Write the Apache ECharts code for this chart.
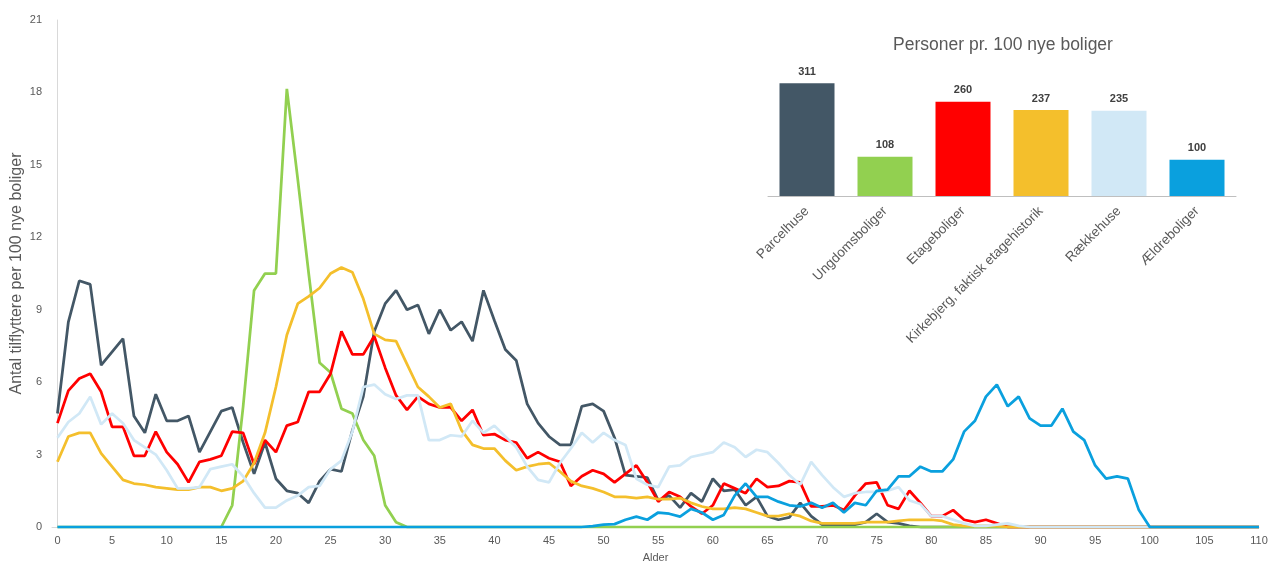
<!DOCTYPE html>
<html>
<head>
<meta charset="utf-8">
<title>Tilflyttere per 100 nye boliger</title>
<script src="https://cdn.jsdelivr.net/npm/echarts@6/dist/echarts.min.js"></script>
<style>
  html, body { margin: 0; padding: 0; background: #fff; }
  #chart { width: 1275px; height: 563px; }
</style>
</head>
<body>
<div id="chart"></div>
<script>
// alder 0..110
const ages = [];
for (let a = 0; a <= 110; a++) ages.push(a);
const xTicks = [0, 5, 10, 15, 20, 25, 30, 35, 40, 45, 50, 55, 60, 65, 70, 75, 80, 85, 90, 95, 100, 105, 110];

const parcelhuse = [
  4.7, 8.5, 10.2, 10.05, 6.7, 7.25, 7.8, 4.6, 3.9, 5.5,
  4.4, 4.4, 4.6, 3.1, 3.95, 4.8, 4.95, 3.5, 2.2, 3.5,
  2.0, 1.5, 1.4, 1.0, 1.9, 2.4, 2.3, 4.0, 5.4, 8.1,
  9.25, 9.8, 9.0, 9.2, 8.0, 9.0, 8.15, 8.5, 7.7, 9.8,
  8.55, 7.35, 6.9, 5.1, 4.3, 3.75, 3.4, 3.4, 5.0, 5.1,
  4.8, 3.7, 2.15, 2.1, 2.05, 1.1, 1.3, 0.8, 1.4, 1.05,
  2.0, 1.5, 1.55, 0.9, 1.25, 0.45, 0.3, 0.4, 1.0, 0.45,
  0.1, 0.1, 0.1, 0.1, 0.2, 0.55, 0.2, 0.15, 0.05, 0,
  0, 0, 0, 0, 0, 0, 0, 0, 0, 0,
  0, 0, 0, 0, 0, 0, 0, 0, 0, 0,
  0, 0, 0, 0, 0, 0, 0, 0, 0, 0, 0
];
const ungdomsboliger = [
  0, 0, 0, 0, 0, 0, 0, 0, 0, 0,
  0, 0, 0, 0, 0, 0, 0.9, 5.0, 9.8, 10.5,
  10.5, 18.15, 14.4, 10.5, 6.8, 6.4, 4.9, 4.7, 3.6, 2.95,
  0.9, 0.2, 0, 0, 0, 0, 0, 0, 0, 0,
  0, 0, 0, 0, 0, 0, 0, 0, 0, 0,
  0, 0, 0, 0, 0, 0, 0, 0, 0, 0,
  0, 0, 0, 0, 0, 0, 0, 0, 0, 0,
  0, 0, 0, 0, 0, 0, 0, 0, 0, 0,
  0, 0, 0, 0, 0, 0, 0, 0, 0, 0,
  0, 0, 0, 0, 0, 0, 0, 0, 0, 0,
  0, 0, 0, 0, 0, 0, 0, 0, 0, 0, 0
];
const etageboliger = [
  4.3, 5.65, 6.15, 6.35, 5.6, 4.15, 4.15, 2.95, 2.95, 3.95,
  3.1, 2.6, 1.85, 2.7, 2.8, 2.95, 3.95, 3.9, 2.6, 3.6,
  3.1, 4.2, 4.35, 5.6, 5.6, 6.35, 8.1, 7.15, 7.15, 7.9,
  6.6, 5.45, 4.85, 5.4, 5.1, 4.95, 4.95, 4.4, 4.85, 3.8,
  3.85, 3.6, 3.5, 2.85, 3.1, 2.85, 2.7, 1.7, 2.1, 2.35,
  2.2, 1.85, 2.2, 2.55, 1.85, 1.05, 1.45, 1.25, 0.85, 0.55,
  0.9, 1.8, 1.6, 1.4, 2.0, 1.65, 1.7, 1.9, 1.85, 0.85,
  0.85, 0.9, 0.7, 1.3, 1.8, 1.85, 0.9, 0.75, 1.5, 1.0,
  0.45, 0.45, 0.7, 0.3, 0.2, 0.3, 0.15, 0, 0, 0,
  0, 0, 0, 0, 0, 0, 0, 0, 0, 0,
  0, 0, 0, 0, 0, 0, 0, 0, 0, 0, 0
];
const kirkebjerg = [
  2.7, 3.75, 3.9, 3.9, 3.05, 2.5, 1.95, 1.8, 1.75, 1.65,
  1.6, 1.55, 1.55, 1.65, 1.65, 1.5, 1.6, 1.9, 2.65, 3.9,
  5.8, 7.95, 9.25, 9.55, 9.9, 10.5, 10.75, 10.55, 9.45, 8.0,
  7.75, 7.7, 6.75, 5.8, 5.4, 4.95, 5.1, 4.0, 3.4, 3.25,
  3.25, 2.75, 2.35, 2.5, 2.6, 2.65, 2.3, 1.9, 1.7, 1.6,
  1.45, 1.25, 1.25, 1.2, 1.25, 1.15, 1.15, 1.2, 1.0, 0.85,
  0.75, 0.75, 0.8, 0.75, 0.6, 0.45, 0.45, 0.55, 0.45, 0.25,
  0.15, 0.15, 0.15, 0.15, 0.2, 0.2, 0.2, 0.25, 0.3, 0.3,
  0.3, 0.25, 0.1, 0.05, 0.05, 0.05, 0.05, 0, 0, 0,
  0, 0, 0, 0, 0, 0, 0, 0, 0, 0,
  0, 0, 0, 0, 0, 0, 0, 0, 0, 0, 0
];
const raekkehuse = [
  3.7, 4.35, 4.7, 5.4, 4.25, 4.7, 4.3, 3.6, 3.3, 3.0,
  2.35, 1.6, 1.6, 1.65, 2.4, 2.5, 2.6, 2.1, 1.4, 0.8,
  0.8, 1.1, 1.3, 1.65, 1.7, 2.4, 2.75, 3.95, 5.8, 5.9,
  5.5, 5.3, 5.45, 5.45, 3.6, 3.6, 3.8, 3.75, 4.4, 3.9,
  4.2, 3.75, 3.3, 2.5, 1.95, 1.85, 2.65, 3.25, 3.9, 3.5,
  3.9, 3.6, 3.4, 2.0, 1.75, 1.65, 2.5, 2.55, 2.9, 3.0,
  3.1, 3.5, 3.3, 2.9, 3.2, 3.1, 2.65, 2.15, 1.75, 2.7,
  2.15, 1.65, 1.25, 1.4, 1.45, 1.45, 1.5, 1.65, 1.1, 0.95,
  0.45, 0.45, 0.3, 0.15, 0.05, 0.05, 0.1, 0.15, 0.05, 0,
  0, 0, 0, 0, 0, 0, 0, 0, 0, 0,
  0, 0, 0, 0, 0, 0, 0, 0, 0, 0, 0
];
const aeldreboliger = [
  0, 0, 0, 0, 0, 0, 0, 0, 0, 0,
  0, 0, 0, 0, 0, 0, 0, 0, 0, 0,
  0, 0, 0, 0, 0, 0, 0, 0, 0, 0,
  0, 0, 0, 0, 0, 0, 0, 0, 0, 0,
  0, 0, 0, 0, 0, 0, 0, 0, 0, 0.04,
  0.1, 0.12, 0.3, 0.43, 0.3, 0.6, 0.55, 0.43, 0.75, 0.6,
  0.3, 0.5, 1.3, 1.8, 1.25, 1.25, 1.05, 0.9, 0.85, 1.0,
  0.8, 1.0, 0.6, 1.0, 0.9, 1.5, 1.55, 2.1, 2.1, 2.5,
  2.3, 2.3, 2.8, 3.95, 4.4, 5.4, 5.9, 5.0, 5.4, 4.5,
  4.2, 4.2, 4.9, 3.95, 3.6, 2.55, 2.0, 2.1, 2.0, 0.7,
  0, 0, 0, 0, 0, 0, 0, 0, 0, 0, 0
];

// indsat søjlediagram
const boligTyper = ['Parcelhuse', 'Ungdomsboliger', 'Etageboliger', 'Kirkebjerg, faktisk etagehistorik', 'Rækkehuse', 'Ældreboliger'];
const personerPr100 = [311, 108, 260, 237, 235, 100];

const colors = ['#435766', '#92d050', '#ff0000', '#f4bf2c', '#d1e8f6', '#0aa0de'];
const lineSeries = [parcelhuse, ungdomsboliger, etageboliger, kirkebjerg, raekkehuse, aeldreboliger];

const grey = '#595959';
const chart = echarts.init(document.getElementById('chart'));

chart.setOption({
  animation: false,
  textStyle: { fontFamily: 'Liberation Sans, Arial, sans-serif' },
  title: {
    text: 'Personer pr. 100 nye boliger',
    left: 998,
    top: 31,
    textAlign: 'center',
    textStyle: { fontSize: 17.5, fontWeight: 'normal', color: grey },
  },
  grid: [
    { left: 52, right: 16, top: 20, bottom: 36, outerBoundsMode: 'none' },
    { left: 768, width: 468, top: 69, bottom: 367, outerBoundsMode: 'none' },
  ],
  xAxis: [
    {
      type: 'value',
      min: -0.5,
      max: 110,
      name: 'Alder',
      nameLocation: 'middle',
      nameGap: 25,
      nameTextStyle: { fontSize: 11, color: grey },
      axisLine: { show: true, lineStyle: { color: '#d9d9d9' } },
      axisTick: { show: false },
      splitLine: { show: false },
      axisLabel: { customValues: xTicks, fontSize: 11, color: grey, margin: 8 },
    },
    {
      type: 'category',
      gridIndex: 1,
      data: boligTyper,
      axisLine: { lineStyle: { color: '#bfbfbf' } },
      axisTick: { show: false },
      axisLabel: { rotate: 45, interval: 0, fontSize: 13.5, color: grey, margin: 13 },
    },
  ],
  yAxis: [
    {
      type: 'value',
      min: 0,
      max: 21,
      interval: 3,
      name: 'Antal tilflyttere per 100 nye boliger',
      nameLocation: 'middle',
      nameGap: 27,
      nameMoveOverlap: false,
      nameTextStyle: { fontSize: 16, color: grey },
      axisLine: { show: true, lineStyle: { color: '#d9d9d9' } },
      axisTick: { show: false },
      splitLine: { show: false },
      axisLabel: { fontSize: 11, color: grey, margin: 10 },
    },
    {
      type: 'value',
      gridIndex: 1,
      min: 0,
      max: 350,
      show: false,
    },
  ],
  series: lineSeries.map((arr, i) => ({
    name: boligTyper[i],
    type: 'line',
    data: arr.map((v, k) => [ages[k], v]),
    showSymbol: false,
    lineStyle: { color: colors[i], width: 2.75 },
    itemStyle: { color: colors[i] },
  })).concat([
    {
      type: 'bar',
      xAxisIndex: 1,
      yAxisIndex: 1,
      barWidth: 55,
      data: personerPr100.map((v, i) => ({ value: v, itemStyle: { color: colors[i] } })),
      label: {
        show: true,
        position: 'top',
        distance: 6,
        fontSize: 11,
        fontWeight: 'bold',
        color: '#404040',
      },
    },
  ]),
});
</script>
</body>
</html>
